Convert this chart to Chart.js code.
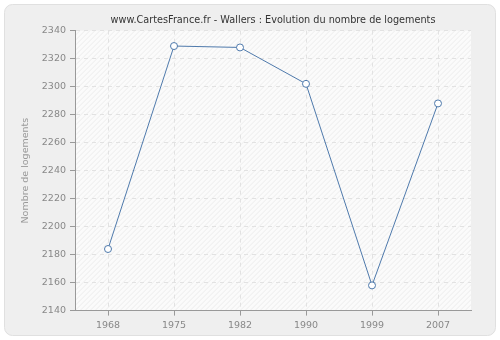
<!DOCTYPE html>
<html><head><meta charset="utf-8">
<script src="https://cdn.jsdelivr.net/npm/chart.js@4"></script>
<style>html,body{margin:0;padding:0;background:#fff}#wrap{width:500px;height:340px}</style>
</head><body><div id="wrap"><canvas id="c" width="500" height="340"></canvas></div>
<script>
const years = ["1968","1975","1982","1990","1999","2007"];
const logements = [2184, 2329, 2328, 2302, 2158, 2288];
const yMin = 2140, yMax = 2340, yStep = 20;
const titleText = "www.CartesFrance.fr - Wallers : Evolution du nombre de logements";
const yTitle = "Nombre de logements";

const bgPlugin = {
  id: 'bg',
  beforeDraw(chart) {
    const ctx = chart.ctx;
    ctx.save();
    ctx.fillStyle = '#ffffff';
    ctx.fillRect(0,0,chart.width,chart.height);
    const x=4.5,y=4.5,w=491,h=331,r=8;
    ctx.beginPath();
    ctx.moveTo(x+r,y);ctx.arcTo(x+w,y,x+w,y+h,r);ctx.arcTo(x+w,y+h,x,y+h,r);
    ctx.arcTo(x,y+h,x,y,r);ctx.arcTo(x,y,x+w,y,r);ctx.closePath();
    ctx.fillStyle='#efefef';ctx.fill();
    ctx.strokeStyle='#e0e0e0';ctx.lineWidth=1;ctx.stroke();
    const a = chart.chartArea;
    ctx.fillStyle='#fbfbfb';
    ctx.fillRect(a.left,a.top,a.right-a.left,a.bottom-a.top);
    ctx.beginPath();
    ctx.rect(a.left,a.top,a.right-a.left,a.bottom-a.top);
    ctx.clip();
    ctx.strokeStyle='#ececec';ctx.lineWidth=1;
    for(let k=-400;k<500;k+=5){
      ctx.beginPath();ctx.moveTo(a.left+k,a.bottom);ctx.lineTo(a.left+k+(a.bottom-a.top),a.top);ctx.stroke();
    }
    ctx.restore();
  }
};

new Chart(document.getElementById('c'), {
  type: 'line',
  data: { labels: years, datasets: [{
    data: logements, borderColor:'#4f7aac', borderWidth:1, backgroundColor:'#ffffff',
    pointBackgroundColor:'#ffffff', pointBorderColor:'#4f7aac', pointBorderWidth:1,
    pointRadius:3.5, tension:0, fill:false
  }]},
  options: {
    responsive:false, animation:false, devicePixelRatio:1,
    layout:{padding:{left:20,right:29,top:0,bottom:5}},
    plugins:{
      legend:{display:false}, tooltip:{enabled:false},
      title:{display:true,fullSize:false,text:titleText,color:'#333333',font:{family:'DejaVu Sans',size:9.7,weight:'normal'},padding:{top:15,bottom:4}}
    },
    scales:{
      x:{
        offset:true,
        grid:{offset:false,color:'#e2e2e2',tickBorderDash:[],tickColor:'#999999',tickLength:5,drawTicks:true},
        border:{color:'#999999',dash:[4,4]},
        ticks:{color:'#888888',font:{family:'DejaVu Sans',size:9.5},padding:4,maxRotation:0}
      },
      y:{
        min:yMin,max:yMax,
        afterFit(s){s.width=55;},
        grid:{color:'#e2e2e2',tickBorderDash:[],tickColor:'#999999',tickLength:5},
        border:{color:'#999999',dash:[4,4]},
        ticks:{stepSize:yStep,color:'#888888',font:{family:'DejaVu Sans',size:9.5},padding:4,callback:v=>String(v)},
        title:{display:true,text:yTitle,color:'#999999',font:{family:'DejaVu Sans',size:9.5},padding:{top:0,bottom:4}}
      }
    }
  },
  plugins:[bgPlugin]
});
</script></body></html>
